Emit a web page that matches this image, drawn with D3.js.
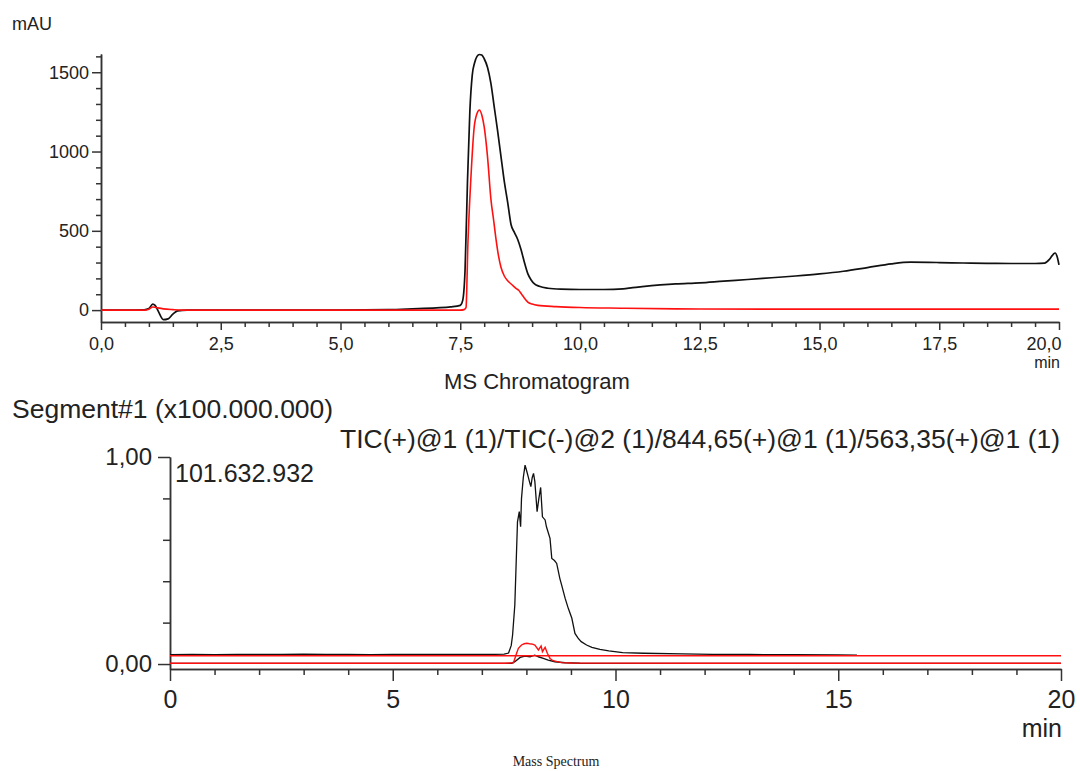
<!DOCTYPE html>
<html>
<head>
<meta charset="utf-8">
<script src="https://cdn.jsdelivr.net/npm/d3@7"></script>
<style>
  html, body { margin: 0; padding: 0; background: #fff; }
  svg { display: block; font-family: "Liberation Sans", Arial, sans-serif; }
</style>
</head>
<body>
<svg id="chart" width="1080" height="771"></svg>
<script>
// ---------- Top chart (UV, mAU) ----------
const uvBlackT = [0, 0.5, 0.9, 1.0, 1.08, 1.13, 1.2, 1.3, 1.4, 1.5, 1.6, 1.8, 2.5, 4, 5, 6, 6.5, 7.0, 7.3, 7.5, 7.55, 7.6, 7.65, 7.7, 7.75, 7.8, 7.85, 7.9, 7.95, 8.0, 8.07, 8.14, 8.21, 8.28, 8.35, 8.42, 8.49, 8.56, 8.63, 8.7, 8.77, 8.84, 8.91, 8.98, 9.05, 9.15, 9.33, 9.6, 10.0, 10.5, 10.9, 11.1, 11.3, 12.0, 12.5, 13.0, 13.5, 14.0, 14.5, 15.0, 15.5, 16.0, 16.5, 16.9, 17.5, 18.0, 18.5, 19.0, 19.5, 19.7, 19.8, 19.88, 19.92, 19.96, 20.0];
const uvBlackV = [0, 0, 2, 10, 38, 30, -10, -60, -55, -25, -5, 0, 0, 0, 0, 3, 8, 14, 20, 30, 60, 250, 800, 1250, 1480, 1560, 1600, 1612, 1608, 1585, 1530, 1430, 1280, 1130, 970, 810, 680, 540, 490, 445, 380, 300, 230, 190, 165, 150, 138, 132, 130, 130, 134, 142, 148, 165, 172, 183, 193, 204, 215, 228, 245, 268, 292, 302, 300, 297, 295, 294, 294, 296, 320, 352, 360, 338, 285];

const uvRedT = [0, 0.9, 1.0, 1.08, 1.15, 1.3, 1.5, 1.7, 2.5, 5, 7.0, 7.5, 7.58, 7.62, 7.66, 7.72, 7.79, 7.85, 7.9, 7.95, 8.0, 8.07, 8.14, 8.2, 8.25, 8.3, 8.35, 8.42, 8.49, 8.58, 8.67, 8.72, 8.77, 8.84, 8.91, 9.0, 9.12, 9.5, 10.0, 10.86, 12, 14, 16, 18, 20];
const uvRedV = [0, 0, 6, 20, 16, 8, 3, 0, 0, 0, 0, 0, 3, 15, 420, 820, 1150, 1240, 1262, 1230, 1155, 965, 700, 560, 440, 340, 270, 215, 185, 160, 135, 125, 105, 75, 50, 38, 30, 22, 16, 12, 8, 6, 6, 6, 6];

const topXMajor = [0, 2.5, 5, 7.5, 10, 12.5, 15, 17.5, 20];
const topYMajor = [0, 500, 1000, 1500];

// ---------- Bottom chart (MS, x100.000.000) ----------
const ticPosT = [0, 0.5, 1, 1.5, 2, 2.5, 3, 3.5, 4, 4.5, 5, 5.5, 6, 6.5, 7, 7.3, 7.5, 7.6, 7.66, 7.69, 7.74, 7.80, 7.84, 7.87, 7.89, 7.93, 7.97, 8.01, 8.04, 8.07, 8.10, 8.13, 8.16, 8.19, 8.24, 8.28, 8.32, 8.36, 8.42, 8.45, 8.53, 8.57, 8.63, 8.68, 8.75, 8.79, 8.87, 8.94, 9.02, 9.09, 9.16, 9.23, 9.35, 9.47, 9.65, 9.85, 10.16, 10.63, 11.5, 12.18, 13, 14, 15, 15.42];
const ticPosV = [0.045, 0.046, 0.045, 0.047, 0.046, 0.047, 0.048, 0.046, 0.046, 0.045, 0.046, 0.047, 0.046, 0.046, 0.046, 0.047, 0.048, 0.053, 0.09, 0.14, 0.285, 0.687, 0.736, 0.663, 0.80, 0.90, 0.961, 0.93, 0.905, 0.88, 0.857, 0.90, 0.921, 0.881, 0.736, 0.80, 0.853, 0.711, 0.696, 0.663, 0.607, 0.51, 0.50, 0.486, 0.414, 0.382, 0.317, 0.269, 0.221, 0.148, 0.125, 0.108, 0.092, 0.081, 0.071, 0.064, 0.055, 0.052, 0.049, 0.047, 0.046, 0.045, 0.044, 0.043];

const ticNegT = [0, 5, 10, 15, 20];
const ticNegV = [0.040, 0.040, 0.040, 0.040, 0.040];

const mz844T = [0, 5, 7.5, 7.71, 7.78, 7.82, 7.89, 7.95, 8.01, 8.07, 8.12, 8.19, 8.27, 8.33, 8.36, 8.42, 8.47, 8.53, 8.6, 8.79, 9.02, 12, 16, 20];
const mz844V = [0.004, 0.004, 0.004, 0.006, 0.052, 0.076, 0.092, 0.098, 0.10, 0.098, 0.097, 0.092, 0.068, 0.087, 0.06, 0.081, 0.052, 0.027, 0.016, 0.007, 0.005, 0.004, 0.004, 0.004];

const mz563T = [0, 7.6, 7.67, 7.74, 7.86, 7.97, 8.08, 8.19, 8.27, 8.38, 8.49, 8.64, 8.87, 9.2, 12, 20];
const mz563V = [0.003, 0.003, 0.004, 0.011, 0.032, 0.039, 0.035, 0.043, 0.035, 0.027, 0.019, 0.011, 0.006, 0.004, 0.003, 0.003];

const botXMajor = [0, 5, 10, 15, 20];
const botYMajor = [0, 1];

const zip = (t, v) => t.map((d, i) => [d, v[i]]);

const svg = d3.select("#chart");
const axisColor = "#333";
const textColor = "#222";

// ===== Top chart =====
const xT = d3.scaleLinear().domain([0, 20]).range([101, 1059]);
const yT = d3.scaleLinear().domain([-75, 1615]).range([322, 54]);

const topMinorX = d3.range(0, 20.001, 0.5).filter(d => !topXMajor.some(m => Math.abs(m - d) < 1e-6));
const topMinorY = d3.range(100, 1601, 100).filter(d => !topYMajor.includes(d));

function styleAxis(g) {
  g.selectAll("path, line").attr("stroke", axisColor).attr("stroke-width", 1.5);
}

// x minor
svg.append("g").attr("transform", "translate(0,322)")
  .call(d3.axisBottom(xT).tickValues(topMinorX).tickSize(5).tickSizeOuter(0).tickFormat(""))
  .call(styleAxis);
// x major
const gxT = svg.append("g").attr("transform", "translate(0,322)")
  .call(d3.axisBottom(xT).tickValues(topXMajor).tickSize(8).tickSizeOuter(0).tickPadding(7)
    .tickFormat(d => d.toFixed(1).replace(".", ",")))
  .call(styleAxis);
gxT.selectAll("text").attr("font-size", 18).attr("fill", textColor)
  .attr("font-family", "Liberation Sans, Arial, sans-serif");
gxT.selectAll(".tick").filter(d => d === 20).select("text").attr("text-anchor", "end").attr("x", 2);

// y minor
svg.append("g").attr("transform", "translate(101,0)")
  .call(d3.axisLeft(yT).tickValues(topMinorY).tickSize(5).tickSizeOuter(0).tickFormat(""))
  .call(styleAxis);
const gyT = svg.append("g").attr("transform", "translate(101,0)")
  .call(d3.axisLeft(yT).tickValues(topYMajor).tickSize(9).tickSizeOuter(0).tickPadding(3)
    .tickFormat(d3.format("d")))
  .call(styleAxis);
gyT.selectAll("text").attr("font-size", 18).attr("fill", textColor)
  .attr("font-family", "Liberation Sans, Arial, sans-serif");

const lineT = d3.line().x(d => xT(d[0])).y(d => yT(d[1])).curve(d3.curveMonotoneX);
svg.append("path").datum(zip(uvBlackT, uvBlackV)).attr("d", lineT)
  .attr("fill", "none").attr("stroke", "#111").attr("stroke-width", 1.7);
svg.append("path").datum(zip(uvRedT, uvRedV)).attr("d", lineT)
  .attr("fill", "none").attr("stroke", "#ff1010").attr("stroke-width", 1.6);

svg.append("text").attr("x", 12).attr("y", 30).attr("font-size", 18).attr("fill", textColor).text("mAU");
svg.append("text").attr("x", 1060).attr("y", 368).attr("text-anchor", "end").attr("font-size", 16).attr("fill", textColor).text("min");
svg.append("text").attr("x", 537).attr("y", 389).attr("text-anchor", "middle").attr("font-size", 22).attr("fill", textColor).text("MS Chromatogram");

// ===== Bottom chart =====
const xB = d3.scaleLinear().domain([0, 20]).range([170, 1061]);
const yB = d3.scaleLinear().domain([-0.024, 1.0]).range([669, 457]);

const botMinorX = d3.range(0, 21, 1).filter(d => !botXMajor.includes(d));
const botMinorY = [0.2, 0.4, 0.6, 0.8];

svg.append("g").attr("transform", "translate(0,669)")
  .call(d3.axisBottom(xB).tickValues(botMinorX).tickSize(6).tickSizeOuter(0).tickFormat(""))
  .call(styleAxis);
const gxB = svg.append("g").attr("transform", "translate(0,669)")
  .call(d3.axisBottom(xB).tickValues(botXMajor).tickSize(12).tickSizeOuter(0).tickPadding(9).tickFormat(d3.format("d")))
  .call(styleAxis);
gxB.selectAll("text").attr("font-size", 25).attr("fill", textColor)
  .attr("font-family", "Liberation Sans, Arial, sans-serif");

svg.append("g").attr("transform", "translate(170,0)")
  .call(d3.axisLeft(yB).tickValues(botMinorY).tickSize(7).tickSizeOuter(0).tickFormat(""))
  .call(styleAxis);
const gyB = svg.append("g").attr("transform", "translate(170,0)")
  .call(d3.axisLeft(yB).tickValues(botYMajor).tickSize(12).tickSizeOuter(0).tickPadding(6)
    .tickFormat(d => d.toFixed(2).replace(".", ",")))
  .call(styleAxis);
gyB.selectAll("text").attr("font-size", 24).attr("fill", textColor)
  .attr("font-family", "Liberation Sans, Arial, sans-serif");

const lineB = d3.line().x(d => xB(d[0])).y(d => yB(d[1]));
svg.append("path").datum(zip(mz563T, mz563V)).attr("d", lineB)
  .attr("fill", "none").attr("stroke", "#111").attr("stroke-width", 1.4);
svg.append("path").datum(zip(mz844T, mz844V)).attr("d", lineB)
  .attr("fill", "none").attr("stroke", "#ff1010").attr("stroke-width", 1.4);
svg.append("path").datum(zip(ticPosT, ticPosV)).attr("d", lineB)
  .attr("fill", "none").attr("stroke", "#111").attr("stroke-width", 1.3);
svg.append("path").datum(zip(ticNegT, ticNegV)).attr("d", lineB)
  .attr("fill", "none").attr("stroke", "#ff1010").attr("stroke-width", 1.3);

svg.append("text").attr("x", 12).attr("y", 418).attr("font-size", 26.5).attr("fill", textColor).text("Segment#1 (x100.000.000)");
svg.append("text").attr("x", 340).attr("y", 448).attr("font-size", 26.5).attr("fill", textColor)
  .attr("textLength", 720).attr("lengthAdjust", "spacingAndGlyphs")
  .text("TIC(+)@1 (1)/TIC(-)@2 (1)/844,65(+)@1 (1)/563,35(+)@1 (1)");
svg.append("text").attr("x", 175).attr("y", 482).attr("font-size", 25).attr("fill", textColor).text("101.632.932");
svg.append("text").attr("x", 1062).attr("y", 737).attr("text-anchor", "end").attr("font-size", 25).attr("fill", textColor).text("min");
svg.append("text").attr("x", 556).attr("y", 766).attr("text-anchor", "middle").attr("font-size", 14)
  .attr("font-family", "Liberation Serif, Times New Roman, serif").attr("fill", textColor).text("Mass Spectrum");
</script>
</body>
</html>
